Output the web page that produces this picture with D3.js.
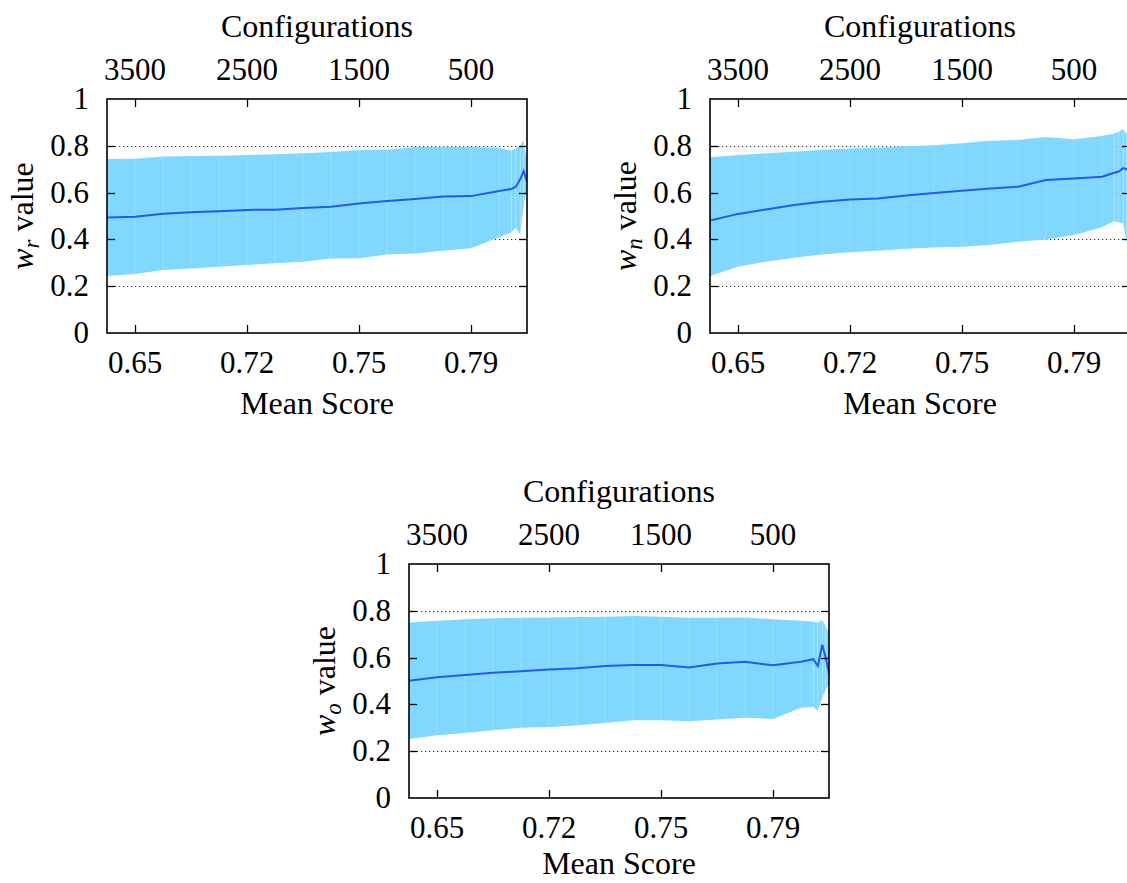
<!DOCTYPE html>
<html>
<head>
<meta charset="utf-8">
<script src="https://cdn.jsdelivr.net/npm/d3@7"></script>
<style>
  html, body { margin: 0; padding: 0; background: #fff; }
  svg text { font-family: "Liberation Serif", "Times New Roman", serif; fill: #000; }
</style>
</head>
<body>
<svg id="chart" width="1127" height="883"></svg>
<script>
// Number of configurations kept at each step (x axis runs from many to few)
const configurations = [3750, 3500, 3250, 3000, 2750, 2500, 2250, 2000, 1750, 1500,
                        1250, 1000, 750, 500, 250, 140, 100, 60, 30, 0];
const configTicks = [3500, 2500, 1500, 500];
const scoreTickLabels = ["0.65", "0.72", "0.75", "0.79"];
const valueTicks = [0, 0.2, 0.4, 0.6, 0.8, 1];
const valueTickLabels = ["0", "0.2", "0.4", "0.6", "0.8", "1"];
const gridValues = [0.2, 0.4, 0.6, 0.8];

// w_r: mean weight and the spread band around it
const wrMean  = [0.494, 0.497, 0.510, 0.516, 0.520, 0.526, 0.527, 0.534, 0.540, 0.553,
                 0.564, 0.573, 0.583, 0.585, 0.607, 0.615, 0.625, 0.658, 0.692, 0.645];
const wrUpper = [0.744, 0.745, 0.754, 0.756, 0.758, 0.761, 0.764, 0.768, 0.774, 0.782,
                 0.783, 0.795, 0.796, 0.795, 0.792, 0.779, 0.789, 0.800, 0.825, 0.720];
const wrLower = [0.244, 0.252, 0.269, 0.276, 0.283, 0.291, 0.298, 0.305, 0.318, 0.319,
                 0.336, 0.340, 0.352, 0.362, 0.409, 0.430, 0.450, 0.420, 0.550, 0.620];

// w_n
const wnMean  = [0.481, 0.509, 0.528, 0.547, 0.561, 0.571, 0.575, 0.588, 0.598, 0.608,
                 0.618, 0.625, 0.654, 0.660, 0.668, 0.685, 0.690, 0.705, 0.700, 0.690];
const wnUpper = [0.751, 0.761, 0.768, 0.775, 0.783, 0.788, 0.792, 0.798, 0.802, 0.811,
                 0.822, 0.825, 0.838, 0.828, 0.842, 0.853, 0.860, 0.872, 0.850, 0.840];
const wnLower = [0.244, 0.283, 0.305, 0.322, 0.336, 0.345, 0.352, 0.360, 0.365, 0.369,
                 0.376, 0.390, 0.400, 0.419, 0.452, 0.479, 0.472, 0.470, 0.390, 0.380];

// w_o
const woMean  = [0.501, 0.516, 0.526, 0.535, 0.542, 0.549, 0.554, 0.564, 0.568, 0.568,
                 0.558, 0.575, 0.582, 0.567, 0.582, 0.593, 0.564, 0.655, 0.600, 0.533];
const woUpper = [0.750, 0.757, 0.764, 0.768, 0.770, 0.771, 0.773, 0.775, 0.778, 0.775,
                 0.770, 0.770, 0.771, 0.764, 0.758, 0.753, 0.749, 0.761, 0.735, 0.705];
const woLower = [0.252, 0.268, 0.278, 0.289, 0.300, 0.303, 0.310, 0.320, 0.332, 0.332,
                 0.328, 0.336, 0.343, 0.338, 0.386, 0.390, 0.372, 0.430, 0.460, 0.490];

const panels = [
  { id: "wr", sub: "r", mean: wrMean, upper: wrUpper, lower: wrLower, left: 107, top: 99, titleGap: 81 },
  { id: "wn", sub: "n", mean: wnMean, upper: wnUpper, lower: wnLower, left: 710, top: 99, titleGap: 81 },
  { id: "wo", sub: "o", mean: woMean, upper: woUpper, lower: woLower, left: 409, top: 564, titleGap: 76 }
];

const W = 420, H = 234;
const BAND = "#80d8ff", LINE = "#2457f5";
const svg = d3.select("#chart");

panels.forEach(p => {
  const g = svg.append("g").attr("transform", `translate(${p.left},${p.top})`);
  const x = d3.scaleLinear().domain([3750, 0]).range([0, W]);
  const y = d3.scaleLinear().domain([0, 1]).range([H, 0]);
  const snap = v => Math.round(v) + 0.5;

  g.append("clipPath").attr("id", "clip-" + p.id)
    .append("rect").attr("x", 0).attr("y", 0).attr("width", W).attr("height", H);

  // dotted grid
  g.selectAll("line.grid").data(gridValues).enter().append("line")
    .attr("class", "grid")
    .attr("x1", 0).attr("x2", W)
    .attr("y1", d => snap(y(d))).attr("y2", d => snap(y(d)))
    .attr("stroke", "#333").attr("stroke-width", 1)
    .attr("stroke-dasharray", "1.2,2.8");

  const plot = g.append("g").attr("clip-path", `url(#clip-${p.id})`);

  // band drawn as one quad per interval
  const rows = configurations.map((c, i) => ({ c, lo: p.lower[i], hi: p.upper[i], m: p.mean[i] }));
  const area = d3.area().x(d => x(d.c)).y0(d => y(d.lo)).y1(d => y(d.hi));
  const segs = d3.pairs(rows);
  plot.selectAll("path.band").data(segs).enter().append("path")
    .attr("class", "band")
    .attr("d", d => area(d))
    .attr("fill", BAND);

  // faint seams where the quads meet
  plot.selectAll("line.seam").data(rows.slice(1, -1)).enter().append("line")
    .attr("class", "seam")
    .attr("x1", d => x(d.c)).attr("x2", d => x(d.c))
    .attr("y1", d => y(d.hi)).attr("y2", d => y(d.lo))
    .attr("stroke", "#fff").attr("stroke-opacity", 0.2).attr("stroke-width", 0.8);

  plot.append("path")
    .datum(rows)
    .attr("d", d3.line().x(d => x(d.c)).y(d => y(d.m)))
    .attr("fill", "none")
    .attr("stroke", LINE)
    .attr("stroke-width", 2);

  // inward ticks
  const tk = 8;
  configTicks.forEach(c => {
    const xx = snap(x(c));
    g.append("line").attr("x1", xx).attr("x2", xx).attr("y1", 0).attr("y2", tk)
      .attr("stroke", "#000").attr("stroke-width", 1.3);
    g.append("line").attr("x1", xx).attr("x2", xx).attr("y1", H).attr("y2", H - tk)
      .attr("stroke", "#000").attr("stroke-width", 1.3);
  });
  gridValues.forEach(v => {
    const yy = snap(y(v));
    g.append("line").attr("x1", 0).attr("x2", tk).attr("y1", yy).attr("y2", yy)
      .attr("stroke", "#000").attr("stroke-width", 1.3);
    g.append("line").attr("x1", W).attr("x2", W - tk).attr("y1", yy).attr("y2", yy)
      .attr("stroke", "#000").attr("stroke-width", 1.3);
  });

  // frame
  g.append("rect").attr("x", 0).attr("y", 0).attr("width", W).attr("height", H)
    .attr("fill", "none").attr("stroke", "#000").attr("stroke-width", 1.6);

  // tick labels
  const fs = 31;
  g.selectAll("text.top").data(configTicks).enter().append("text")
    .attr("x", d => x(d)).attr("y", -19)
    .attr("text-anchor", "middle").attr("font-size", fs).text(d => d);
  g.selectAll("text.bot").data(scoreTickLabels).enter().append("text")
    .attr("x", (d, i) => x(configTicks[i])).attr("y", H + 40)
    .attr("text-anchor", "middle").attr("font-size", fs).text(d => d);
  g.selectAll("text.yl").data(valueTicks).enter().append("text")
    .attr("x", -18).attr("y", d => y(d) + 10)
    .attr("text-anchor", "end").attr("font-size", fs)
    .text((d, i) => valueTickLabels[i]);

  // axis titles
  g.append("text").attr("x", W / 2).attr("y", -62)
    .attr("text-anchor", "middle").attr("font-size", 32).text("Configurations");
  g.append("text").attr("x", W / 2).attr("y", H + p.titleGap)
    .attr("text-anchor", "middle").attr("font-size", 32).text("Mean Score");

  const yt = g.append("text")
    .attr("transform", `translate(-74,${H / 2}) rotate(-90)`)
    .attr("text-anchor", "middle").attr("font-size", 32);
  yt.append("tspan").attr("font-style", "italic").text("w");
  yt.append("tspan").attr("font-style", "italic").attr("font-size", 23)
    .attr("dy", 6).text(p.sub);
  yt.append("tspan").attr("dy", -6).text(" value");
});
</script>
</body>
</html>
